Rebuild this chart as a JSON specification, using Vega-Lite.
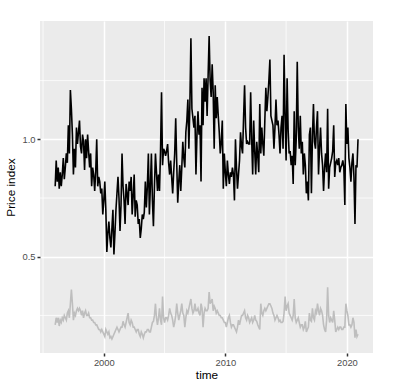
{
 "$schema": "https://vega.github.io/schema/vega-lite/v6.json",
 "width": 333, "height": 332,
 "autosize": {"type": "none"},
 "padding": {"left": 40, "top": 21, "right": 26, "bottom": 36},
 "background": "white",
 "config": {
  "view": {"fill": "#EBEBEB", "stroke": null},
  "font": "Liberation Sans",
  "axis": {"grid": true, "gridColor": "white", "gridWidth": 1.5, "domain": false, "tickColor": "#333333", "tickWidth": 1.5, "tickSize": 3, "labelColor": "#4D4D4D", "labelFontSize": 9.4, "labelPadding": 2, "labelFlush": false, "titleFontSize": 11.8, "titleFontWeight": "normal", "titleColor": "black"},
  "axisX": {"titlePadding": 3},
  "axisY": {"titlePadding": 5}
 },
 "data": {"values": [
{"t":1996.000,"p":0.80,"o":0.21},{"t":1996.083,"p":0.91,"o":0.24},{"t":1996.167,"p":0.82,"o":0.22},{"t":1996.250,"p":0.88,"o":0.24},{"t":1996.333,"p":0.79,"o":0.205},{"t":1996.417,"p":0.86,"o":0.23},{"t":1996.500,"p":0.80,"o":0.22},{"t":1996.583,"p":0.85,"o":0.24},{"t":1996.667,"p":0.92,"o":0.23},{"t":1996.750,"p":0.83,"o":0.25},{"t":1996.833,"p":0.88,"o":0.24},{"t":1996.917,"p":0.94,"o":0.23},
{"t":1997.000,"p":0.90,"o":0.26},{"t":1997.083,"p":1.06,"o":0.27},{"t":1997.167,"p":0.94,"o":0.24},{"t":1997.250,"p":1.21,"o":0.30},{"t":1997.333,"p":1.13,"o":0.36},{"t":1997.417,"p":1.02,"o":0.30},{"t":1997.500,"p":0.85,"o":0.23},{"t":1997.583,"p":0.96,"o":0.26},{"t":1997.667,"p":0.88,"o":0.25},{"t":1997.750,"p":1.05,"o":0.27},{"t":1997.833,"p":0.98,"o":0.28},{"t":1997.917,"p":1.03,"o":0.27},
{"t":1998.000,"p":1.08,"o":0.28},{"t":1998.083,"p":0.97,"o":0.27},{"t":1998.167,"p":0.94,"o":0.25},{"t":1998.250,"p":1.02,"o":0.27},{"t":1998.333,"p":0.99,"o":0.24},{"t":1998.417,"p":0.87,"o":0.26},{"t":1998.500,"p":1.00,"o":0.27},{"t":1998.583,"p":0.92,"o":0.25},{"t":1998.667,"p":1.02,"o":0.25},{"t":1998.750,"p":0.95,"o":0.26},{"t":1998.833,"p":0.88,"o":0.24},{"t":1998.917,"p":0.94,"o":0.24},
{"t":1999.000,"p":0.80,"o":0.23},{"t":1999.083,"p":0.88,"o":0.23},{"t":1999.167,"p":0.85,"o":0.22},{"t":1999.250,"p":0.78,"o":0.22},{"t":1999.333,"p":0.86,"o":0.21},{"t":1999.417,"p":1.00,"o":0.21},{"t":1999.500,"p":0.80,"o":0.20},{"t":1999.583,"p":0.84,"o":0.19},{"t":1999.667,"p":0.82,"o":0.19},{"t":1999.750,"p":0.77,"o":0.18},{"t":1999.833,"p":0.79,"o":0.19},{"t":1999.917,"p":0.68,"o":0.18},
{"t":2000.000,"p":0.74,"o":0.17},{"t":2000.083,"p":0.82,"o":0.16},{"t":2000.167,"p":0.70,"o":0.19},{"t":2000.250,"p":0.52,"o":0.18},{"t":2000.333,"p":0.60,"o":0.17},{"t":2000.417,"p":0.65,"o":0.18},{"t":2000.500,"p":0.58,"o":0.155},{"t":2000.583,"p":0.54,"o":0.16},{"t":2000.667,"p":0.62,"o":0.15},{"t":2000.750,"p":0.70,"o":0.16},{"t":2000.833,"p":0.51,"o":0.17},{"t":2000.917,"p":0.60,"o":0.18},
{"t":2001.000,"p":0.70,"o":0.19},{"t":2001.083,"p":0.77,"o":0.20},{"t":2001.167,"p":0.84,"o":0.19},{"t":2001.250,"p":0.75,"o":0.18},{"t":2001.333,"p":0.61,"o":0.19},{"t":2001.417,"p":0.72,"o":0.20},{"t":2001.500,"p":0.94,"o":0.20},{"t":2001.583,"p":0.80,"o":0.225},{"t":2001.667,"p":0.74,"o":0.21},{"t":2001.750,"p":0.64,"o":0.20},{"t":2001.833,"p":0.81,"o":0.22},{"t":2001.917,"p":0.77,"o":0.24},
{"t":2002.000,"p":0.72,"o":0.26},{"t":2002.083,"p":0.82,"o":0.22},{"t":2002.167,"p":0.78,"o":0.21},{"t":2002.250,"p":0.84,"o":0.23},{"t":2002.333,"p":0.68,"o":0.22},{"t":2002.417,"p":0.76,"o":0.20},{"t":2002.500,"p":0.85,"o":0.20},{"t":2002.583,"p":0.67,"o":0.19},{"t":2002.667,"p":0.74,"o":0.18},{"t":2002.750,"p":0.72,"o":0.19},{"t":2002.833,"p":0.64,"o":0.19},{"t":2002.917,"p":0.66,"o":0.17},
{"t":2003.000,"p":0.58,"o":0.16},{"t":2003.083,"p":0.62,"o":0.18},{"t":2003.167,"p":0.68,"o":0.17},{"t":2003.250,"p":0.66,"o":0.155},{"t":2003.333,"p":0.69,"o":0.17},{"t":2003.417,"p":0.82,"o":0.18},{"t":2003.500,"p":0.71,"o":0.18},{"t":2003.583,"p":0.80,"o":0.19},{"t":2003.667,"p":0.94,"o":0.19},{"t":2003.750,"p":0.68,"o":0.18},{"t":2003.833,"p":0.80,"o":0.18},{"t":2003.917,"p":0.94,"o":0.20},
{"t":2004.000,"p":0.74,"o":0.22},{"t":2004.083,"p":0.63,"o":0.225},{"t":2004.167,"p":0.80,"o":0.25},{"t":2004.250,"p":0.94,"o":0.30},{"t":2004.333,"p":0.86,"o":0.24},{"t":2004.417,"p":0.78,"o":0.21},{"t":2004.500,"p":0.85,"o":0.24},{"t":2004.583,"p":0.78,"o":0.28},{"t":2004.667,"p":0.95,"o":0.23},{"t":2004.750,"p":1.20,"o":0.21},{"t":2004.833,"p":0.89,"o":0.33},{"t":2004.917,"p":0.96,"o":0.24},
{"t":2005.000,"p":0.95,"o":0.22},{"t":2005.083,"p":0.93,"o":0.24},{"t":2005.167,"p":0.95,"o":0.24},{"t":2005.250,"p":0.98,"o":0.23},{"t":2005.333,"p":0.90,"o":0.25},{"t":2005.417,"p":0.85,"o":0.28},{"t":2005.500,"p":0.91,"o":0.26},{"t":2005.583,"p":0.84,"o":0.25},{"t":2005.667,"p":0.77,"o":0.23},{"t":2005.750,"p":0.86,"o":0.20},{"t":2005.833,"p":0.94,"o":0.22},{"t":2005.917,"p":1.09,"o":0.25},
{"t":2006.000,"p":0.90,"o":0.30},{"t":2006.083,"p":0.73,"o":0.26},{"t":2006.167,"p":0.82,"o":0.23},{"t":2006.250,"p":0.89,"o":0.25},{"t":2006.333,"p":0.78,"o":0.27},{"t":2006.417,"p":0.88,"o":0.30},{"t":2006.500,"p":0.99,"o":0.26},{"t":2006.583,"p":0.92,"o":0.25},{"t":2006.667,"p":0.88,"o":0.20},{"t":2006.750,"p":1.03,"o":0.24},{"t":2006.833,"p":1.08,"o":0.27},{"t":2006.917,"p":1.17,"o":0.26},
{"t":2007.000,"p":0.96,"o":0.28},{"t":2007.083,"p":1.15,"o":0.30},{"t":2007.167,"p":1.43,"o":0.32},{"t":2007.250,"p":1.13,"o":0.28},{"t":2007.333,"p":1.09,"o":0.26},{"t":2007.417,"p":1.05,"o":0.27},{"t":2007.500,"p":1.10,"o":0.30},{"t":2007.583,"p":0.85,"o":0.27},{"t":2007.667,"p":1.02,"o":0.27},{"t":2007.750,"p":1.12,"o":0.28},{"t":2007.833,"p":1.02,"o":0.26},{"t":2007.917,"p":1.06,"o":0.25},
{"t":2008.000,"p":0.82,"o":0.30},{"t":2008.083,"p":1.22,"o":0.28},{"t":2008.167,"p":1.06,"o":0.20},{"t":2008.250,"p":1.26,"o":0.26},{"t":2008.333,"p":1.16,"o":0.28},{"t":2008.417,"p":1.26,"o":0.27},{"t":2008.500,"p":1.10,"o":0.27},{"t":2008.583,"p":1.27,"o":0.28},{"t":2008.667,"p":1.44,"o":0.35},{"t":2008.750,"p":1.25,"o":0.30},{"t":2008.833,"p":1.18,"o":0.31},{"t":2008.917,"p":1.32,"o":0.32},
{"t":2009.000,"p":1.20,"o":0.27},{"t":2009.083,"p":0.96,"o":0.29},{"t":2009.167,"p":1.23,"o":0.28},{"t":2009.250,"p":1.09,"o":0.26},{"t":2009.333,"p":1.18,"o":0.27},{"t":2009.417,"p":1.10,"o":0.26},{"t":2009.500,"p":1.03,"o":0.25},{"t":2009.583,"p":0.94,"o":0.25},{"t":2009.667,"p":0.99,"o":0.24},{"t":2009.750,"p":1.08,"o":0.24},{"t":2009.833,"p":0.79,"o":0.23},{"t":2009.917,"p":0.94,"o":0.22},
{"t":2010.000,"p":0.86,"o":0.22},{"t":2010.083,"p":0.80,"o":0.20},{"t":2010.167,"p":0.91,"o":0.22},{"t":2010.250,"p":0.85,"o":0.24},{"t":2010.333,"p":0.81,"o":0.25},{"t":2010.417,"p":0.86,"o":0.22},{"t":2010.500,"p":0.84,"o":0.20},{"t":2010.583,"p":0.88,"o":0.21},{"t":2010.667,"p":0.85,"o":0.21},{"t":2010.750,"p":0.74,"o":0.20},{"t":2010.833,"p":1.00,"o":0.19},{"t":2010.917,"p":0.88,"o":0.18},
{"t":2011.000,"p":0.79,"o":0.20},{"t":2011.083,"p":0.85,"o":0.23},{"t":2011.167,"p":0.91,"o":0.21},{"t":2011.250,"p":1.03,"o":0.23},{"t":2011.333,"p":0.97,"o":0.25},{"t":2011.417,"p":0.94,"o":0.25},{"t":2011.500,"p":1.09,"o":0.26},{"t":2011.583,"p":1.23,"o":0.27},{"t":2011.667,"p":1.05,"o":0.24},{"t":2011.750,"p":0.98,"o":0.23},{"t":2011.833,"p":0.99,"o":0.25},{"t":2011.917,"p":0.98,"o":0.24},
{"t":2012.000,"p":0.98,"o":0.22},{"t":2012.083,"p":1.20,"o":0.23},{"t":2012.167,"p":1.00,"o":0.24},{"t":2012.250,"p":0.85,"o":0.22},{"t":2012.333,"p":1.08,"o":0.23},{"t":2012.417,"p":0.95,"o":0.25},{"t":2012.500,"p":0.85,"o":0.23},{"t":2012.583,"p":0.99,"o":0.225},{"t":2012.667,"p":0.93,"o":0.21},{"t":2012.750,"p":0.86,"o":0.20},{"t":2012.833,"p":1.15,"o":0.19},{"t":2012.917,"p":0.94,"o":0.30},
{"t":2013.000,"p":1.05,"o":0.26},{"t":2013.083,"p":0.98,"o":0.25},{"t":2013.167,"p":0.93,"o":0.27},{"t":2013.250,"p":1.08,"o":0.28},{"t":2013.333,"p":1.22,"o":0.27},{"t":2013.417,"p":1.12,"o":0.28},{"t":2013.500,"p":1.18,"o":0.29},{"t":2013.583,"p":1.25,"o":0.30},{"t":2013.667,"p":1.34,"o":0.30},{"t":2013.750,"p":1.10,"o":0.29},{"t":2013.833,"p":1.08,"o":0.28},{"t":2013.917,"p":1.06,"o":0.26},
{"t":2014.000,"p":0.96,"o":0.25},{"t":2014.083,"p":1.05,"o":0.23},{"t":2014.167,"p":1.17,"o":0.24},{"t":2014.250,"p":1.06,"o":0.25},{"t":2014.333,"p":1.08,"o":0.24},{"t":2014.417,"p":1.02,"o":0.225},{"t":2014.500,"p":0.94,"o":0.23},{"t":2014.583,"p":1.05,"o":0.22},{"t":2014.667,"p":1.10,"o":0.22},{"t":2014.750,"p":0.96,"o":0.225},{"t":2014.833,"p":1.36,"o":0.26},{"t":2014.917,"p":1.10,"o":0.33},
{"t":2015.000,"p":0.91,"o":0.27},{"t":2015.083,"p":1.26,"o":0.29},{"t":2015.167,"p":1.04,"o":0.30},{"t":2015.250,"p":0.94,"o":0.26},{"t":2015.333,"p":0.95,"o":0.25},{"t":2015.417,"p":0.89,"o":0.24},{"t":2015.500,"p":0.93,"o":0.23},{"t":2015.583,"p":0.81,"o":0.25},{"t":2015.667,"p":1.12,"o":0.32},{"t":2015.750,"p":0.89,"o":0.24},{"t":2015.833,"p":1.00,"o":0.22},{"t":2015.917,"p":1.33,"o":0.23},
{"t":2016.000,"p":1.05,"o":0.24},{"t":2016.083,"p":0.96,"o":0.22},{"t":2016.167,"p":1.10,"o":0.20},{"t":2016.250,"p":0.94,"o":0.21},{"t":2016.333,"p":0.99,"o":0.21},{"t":2016.417,"p":0.85,"o":0.19},{"t":2016.500,"p":0.94,"o":0.20},{"t":2016.583,"p":0.89,"o":0.225},{"t":2016.667,"p":0.77,"o":0.18},{"t":2016.750,"p":0.82,"o":0.19},{"t":2016.833,"p":0.74,"o":0.20},{"t":2016.917,"p":1.02,"o":0.26},
{"t":2017.000,"p":1.05,"o":0.23},{"t":2017.083,"p":0.77,"o":0.225},{"t":2017.167,"p":1.01,"o":0.28},{"t":2017.250,"p":1.15,"o":0.24},{"t":2017.333,"p":0.99,"o":0.23},{"t":2017.417,"p":0.96,"o":0.27},{"t":2017.500,"p":1.05,"o":0.26},{"t":2017.583,"p":1.12,"o":0.30},{"t":2017.667,"p":0.85,"o":0.27},{"t":2017.750,"p":0.96,"o":0.25},{"t":2017.833,"p":1.05,"o":0.28},{"t":2017.917,"p":0.94,"o":0.27},
{"t":2018.000,"p":0.89,"o":0.25},{"t":2018.083,"p":0.78,"o":0.21},{"t":2018.167,"p":0.88,"o":0.19},{"t":2018.250,"p":0.94,"o":0.18},{"t":2018.333,"p":0.86,"o":0.23},{"t":2018.417,"p":1.13,"o":0.37},{"t":2018.500,"p":0.79,"o":0.25},{"t":2018.583,"p":0.88,"o":0.22},{"t":2018.667,"p":0.90,"o":0.24},{"t":2018.750,"p":0.92,"o":0.23},{"t":2018.833,"p":0.95,"o":0.22},{"t":2018.917,"p":1.06,"o":0.27},
{"t":2019.000,"p":0.84,"o":0.23},{"t":2019.083,"p":0.90,"o":0.18},{"t":2019.167,"p":0.91,"o":0.19},{"t":2019.250,"p":0.89,"o":0.20},{"t":2019.333,"p":0.92,"o":0.19},{"t":2019.417,"p":0.86,"o":0.20},{"t":2019.500,"p":0.88,"o":0.20},{"t":2019.583,"p":0.89,"o":0.19},{"t":2019.667,"p":0.91,"o":0.19},{"t":2019.750,"p":0.88,"o":0.20},{"t":2019.833,"p":0.72,"o":0.20},{"t":2019.917,"p":1.15,"o":0.30},
{"t":2020.000,"p":0.98,"o":0.27},{"t":2020.083,"p":1.05,"o":0.25},{"t":2020.167,"p":0.92,"o":0.21},{"t":2020.250,"p":0.88,"o":0.21},{"t":2020.333,"p":0.82,"o":0.20},{"t":2020.417,"p":0.90,"o":0.21},{"t":2020.500,"p":0.94,"o":0.24},{"t":2020.583,"p":0.84,"o":0.22},{"t":2020.667,"p":0.64,"o":0.155},{"t":2020.750,"p":0.89,"o":0.19},{"t":2020.833,"p":0.88,"o":0.16},{"t":2020.917,"p":1.00,"o":0.17}
 ]},
 "encoding": {
  "x": {"field": "t", "type": "quantitative", "scale": {"domain": [1994.75, 2022.15], "nice": false, "zero": false},
    "axis": {"title": "time", "values": [2000, 2010, 2020], "format": "d"}}
 },
 "layer": [
  {
   "data": {"values": [{"t": 1995}, {"t": 2005}, {"t": 2015}]},
   "mark": {"type": "rule", "color": "white", "strokeWidth": 0.75}
  },
  {
   "data": {"values": [{"p": 0.25}, {"p": 0.75}, {"p": 1.25}]},
   "mark": {"type": "rule", "color": "white", "strokeWidth": 0.75},
   "encoding": {
    "x": null,
    "y": {"field": "p", "type": "quantitative", "scale": {"domain": [0.09, 1.504], "nice": false, "zero": false},
      "axis": {"title": "Price index", "values": [0.5, 1.0], "format": ".1f"}}
   }
  },
  {
   "mark": {"type": "line", "color": "#BEBEBE", "strokeWidth": 1.6},
   "encoding": {
    "y": {"field": "o", "type": "quantitative", "scale": {"domain": [0.09, 1.504], "nice": false, "zero": false},
      "axis": {"title": "Price index", "values": [0.5, 1.0], "format": ".1f"}}
   }
  },
  {
   "mark": {"type": "line", "color": "black", "strokeWidth": 1.6},
   "encoding": {
    "y": {"field": "p", "type": "quantitative", "scale": {"domain": [0.09, 1.504], "nice": false, "zero": false},
      "axis": {"title": "Price index", "values": [0.5, 1.0], "format": ".1f"}}
   }
  }
 ]
}
